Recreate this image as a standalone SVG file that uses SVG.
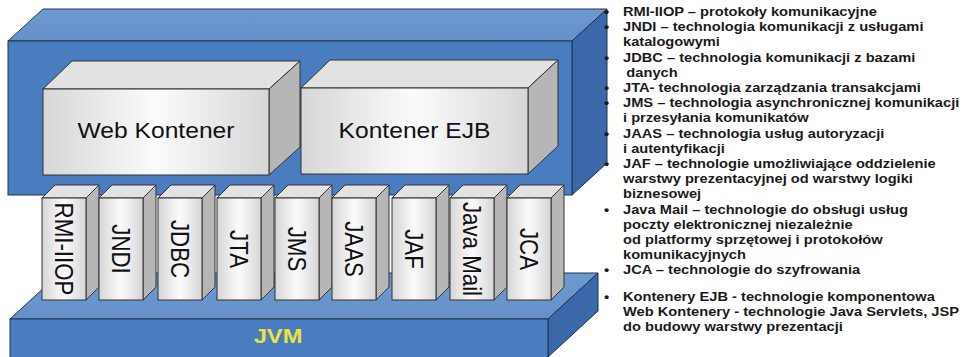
<svg xmlns="http://www.w3.org/2000/svg" width="969" height="357" viewBox="0 0 969 357">
<defs>
<linearGradient id="gf" x1="0" y1="0" x2="1" y2="0">
<stop offset="0" stop-color="#d6d6d6"/>
<stop offset="0.5" stop-color="#fbfbfb"/>
<stop offset="1" stop-color="#d6d6d6"/>
</linearGradient>
<linearGradient id="bt" x1="0" y1="0" x2="0" y2="1">
<stop offset="0" stop-color="#6f9ad0"/>
<stop offset="1" stop-color="#6690c9"/>
</linearGradient>
</defs>
<style>
.bf{fill:#4a7cc0;stroke:#1f3552;stroke-width:1}
.bt{fill:url(#bt);stroke:#1f3552;stroke-width:1}
.bs{fill:#3a68a8;stroke:#1f3552;stroke-width:1}
.gf{fill:url(#gf);stroke:#333;stroke-width:1}
.gt{fill:#e2e2e2;stroke:#333;stroke-width:1}
.gs{fill:#b6b6b6;stroke:#333;stroke-width:1}
.lbl{font-family:"Liberation Sans",Arial,sans-serif;font-size:22px;fill:#111}
.col{font-family:"Liberation Sans",Arial,sans-serif;font-size:22.3px;fill:#111;text-anchor:middle}
.jvm{font-family:"Liberation Sans",Arial,sans-serif;font-size:21px;font-weight:bold;fill:#ece33a;text-anchor:middle}
.lst{font-family:"Liberation Sans",Arial,sans-serif;font-size:13.1px;font-weight:bold;fill:#1a1a1a}
</style>
<rect width="969" height="357" fill="#ffffff"/>
<g id="jvm">
<polygon class="bt" points="10,319 548,319 598,273 60,273"/>
<polygon class="bs" points="548,319 598,273 598,311 548,357"/>
<rect class="bf" x="10" y="319" width="538" height="40"/>
<text class="jvm" transform="translate(278 343) scale(1.13 1)">JVM</text>
</g>
<g id="platform">
<polygon class="bt" points="8,41 572,41 607,9 43,9"/>
<polygon class="bs" points="572,41 607,9 607,163 572,195"/>
<rect class="bf" x="8" y="41" width="564" height="154"/>
</g>
<g id="web-kontener">
<polygon class="gt" points="43,89 269,89 300,61 72,61"/>
<polygon class="gs" points="269,89 300,61 300,147 269,175"/>
<rect class="gf" x="43" y="89" width="226" height="86"/>
<text class="lbl" text-anchor="middle" transform="translate(156 138) scale(1.12 1)">Web Kontener</text>
</g>
<g id="kontener-ejb">
<polygon class="gt" points="301,88 528,88 558,60 330,60"/>
<polygon class="gs" points="528,88 558,60 558,146 528,174"/>
<rect class="gf" x="301" y="88" width="227" height="86"/>
<text class="lbl" text-anchor="middle" transform="translate(414.5 138) scale(1.12 1)">Kontener EJB</text>
</g>
<g id="rmi-iiop">
<polygon class="gt" points="42,198 86,198 99,185 55,185"/>
<polygon class="gs" points="86,198 99,185 99,287 86,300"/>
<rect class="gf" x="42" y="198" width="44" height="102"/>
<text class="col" transform="translate(64 249) scale(1.13 1) rotate(90)" dy="8">RMI-IIOP</text>
</g>
<g id="jndi">
<polygon class="gt" points="99,198 143,198 156,185 112,185"/>
<polygon class="gs" points="143,198 156,185 156,287 143,300"/>
<rect class="gf" x="99" y="198" width="44" height="102"/>
<text class="col" transform="translate(121 249) scale(1.13 1) rotate(90)" dy="8">JNDI</text>
</g>
<g id="jdbc">
<polygon class="gt" points="158,198 202,198 215,185 171,185"/>
<polygon class="gs" points="202,198 215,185 215,287 202,300"/>
<rect class="gf" x="158" y="198" width="44" height="102"/>
<text class="col" transform="translate(180 249) scale(1.13 1) rotate(90)" dy="8">JDBC</text>
</g>
<g id="jta">
<polygon class="gt" points="217,198 261,198 274,185 230,185"/>
<polygon class="gs" points="261,198 274,185 274,287 261,300"/>
<rect class="gf" x="217" y="198" width="44" height="102"/>
<text class="col" transform="translate(239 249) scale(1.13 1) rotate(90)" dy="8">JTA</text>
</g>
<g id="jms">
<polygon class="gt" points="275,198 319,198 332,185 288,185"/>
<polygon class="gs" points="319,198 332,185 332,287 319,300"/>
<rect class="gf" x="275" y="198" width="44" height="102"/>
<text class="col" transform="translate(297 249) scale(1.13 1) rotate(90)" dy="8">JMS</text>
</g>
<g id="jaas">
<polygon class="gt" points="332,198 376,198 389,185 345,185"/>
<polygon class="gs" points="376,198 389,185 389,287 376,300"/>
<rect class="gf" x="332" y="198" width="44" height="102"/>
<text class="col" transform="translate(354 249) scale(1.13 1) rotate(90)" dy="8">JAAS</text>
</g>
<g id="jaf">
<polygon class="gt" points="392,198 436,198 449,185 405,185"/>
<polygon class="gs" points="436,198 449,185 449,287 436,300"/>
<rect class="gf" x="392" y="198" width="44" height="102"/>
<text class="col" transform="translate(414 249) scale(1.13 1) rotate(90)" dy="8">JAF</text>
</g>
<g id="java-mail">
<polygon class="gt" points="450,198 494,198 507,185 463,185"/>
<polygon class="gs" points="494,198 507,185 507,287 494,300"/>
<rect class="gf" x="450" y="198" width="44" height="102"/>
<text class="col" transform="translate(472 249) scale(1.13 1) rotate(90)" dy="8">Java Mail</text>
</g>
<g id="jca">
<polygon class="gt" points="507,198 551,198 564,185 520,185"/>
<polygon class="gs" points="551,198 564,185 564,287 551,300"/>
<rect class="gf" x="507" y="198" width="44" height="102"/>
<text class="col" transform="translate(529 249) scale(1.13 1) rotate(90)" dy="8">JCA</text>
</g>
<g id="connectors"></g>
<g id="legend" class="lst" transform="translate(623 0) scale(1.12 1)">
<text x="-17" y="16">•</text><text x="0" y="16">RMI-IIOP – protokoły komunikacyjne</text>
<text x="-17" y="31.2">•</text><text x="0" y="31.2">JNDI – technologia komunikacji z usługami</text>
<text x="0" y="46.4">katalogowymi</text>
<text x="-17" y="61.6">•</text><text x="0" y="61.6">JDBC – technologia komunikacji z bazami</text>
<text x="3" y="76.8">danych</text>
<text x="-17" y="92">•</text><text x="0" y="92">JTA- technologia zarządzania transakcjami</text>
<text x="-17" y="107.2">•</text><text x="0" y="107.2">JMS – technologia asynchronicznej komunikacji</text>
<text x="0" y="122.4">i przesyłania komunikatów</text>
<text x="-17" y="137.6">•</text><text x="0" y="137.6">JAAS – technologia usług autoryzacji</text>
<text x="0" y="152.8">i autentyfikacji</text>
<text x="-17" y="168">•</text><text x="0" y="168">JAF – technologie umożliwiające oddzielenie</text>
<text x="0" y="183.2">warstwy prezentacyjnej od warstwy logiki</text>
<text x="0" y="198.4">biznesowej</text>
<text x="-17" y="213.6">•</text><text x="0" y="213.6">Java Mail – technologie do obsługi usług</text>
<text x="0" y="228.8">poczty elektronicznej niezależnie</text>
<text x="0" y="244">od platformy sprzętowej i protokołów</text>
<text x="0" y="259.2">komunikacyjnych</text>
<text x="-17" y="274.4">•</text><text x="0" y="274.4">JCA – technologie do szyfrowania</text>
<text x="-17" y="301">•</text><text x="0" y="301">Kontenery EJB - technologie komponentowa</text>
<text x="0" y="316">Web Kontenery - technologie Java Servlets, JSP</text>
<text x="0" y="331">do budowy warstwy prezentacji</text>
</g>
</svg>
